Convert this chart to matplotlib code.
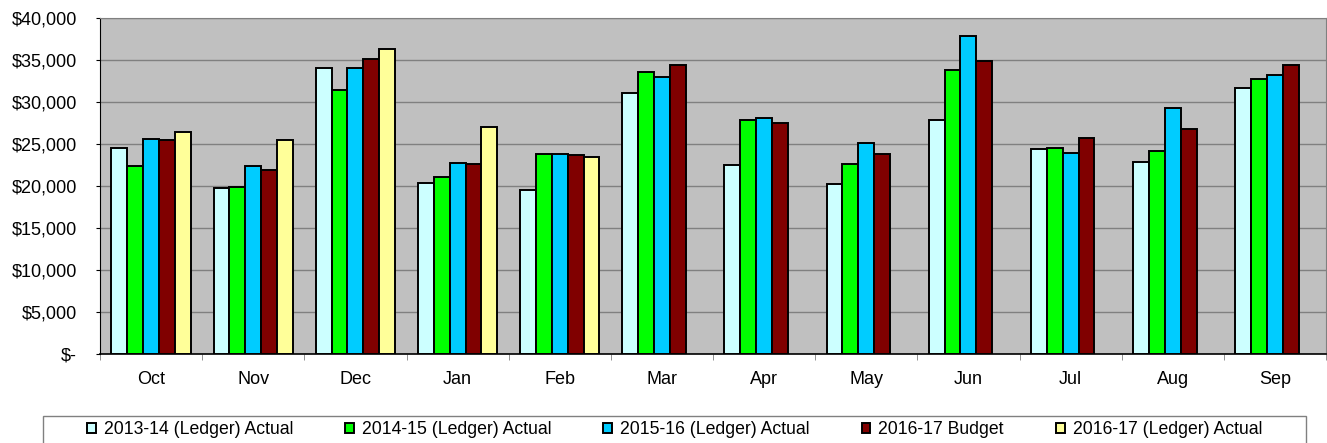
import matplotlib.pyplot as plt
import numpy as np
from matplotlib.ticker import FuncFormatter, FixedLocator
from matplotlib.patches import Rectangle

plt.rcParams['font.family'] = ['Liberation Sans', 'DejaVu Sans']

# -------------------------
# data
# -------------------------
months = ["Oct", "Nov", "Dec", "Jan", "Feb", "Mar", "Apr", "May", "Jun", "Jul", "Aug", "Sep"]

actual_1314 = [24500, 19800, 34000, 20400, 19500, 31100, 22500, 20250, 27800, 24400, 22850, 31700]
actual_1415 = [22400, 19900, 31450, 21100, 23850, 33550, 27800, 22650, 33750, 24500, 24200, 32700]
actual_1516 = [25550, 22400, 34000, 22750, 23850, 32950, 28050, 25150, 37900, 23950, 29300, 33200]
budget_1617 = [25500, 21850, 35100, 22600, 23650, 34400, 27550, 23850, 34900, 25700, 26800, 34400]
actual_1617 = [26450, 25500, 36350, 27050, 23500, None, None, None, None, None, None, None]

series = [
    ("2013-14 (Ledger) Actual", actual_1314, "#CCFFFF"),
    ("2014-15 (Ledger) Actual", actual_1415, "#00FF00"),
    ("2015-16 (Ledger) Actual", actual_1516, "#00CCFF"),
    ("2016-17 Budget", budget_1617, "#800000"),
    ("2016-17 (Ledger) Actual", actual_1617, "#FFFF99"),
]

# -------------------------
# figure
# -------------------------
W, H = 1327, 443
fig = plt.figure(figsize=(W / 100, H / 100), dpi=100)
ax = fig.add_axes([100/W, 1 - 354/H, 1226/W, 336/H])
ax.set_facecolor("#C0C0C0")

x = np.arange(len(months))
w = 0.155
for i, (name, vals, col) in enumerate(series):
    v = np.array([np.nan if a is None else a for a in vals], dtype=float)
    ax.bar(x + (i - 2) * w, v, w, color=col, edgecolor="black", linewidth=1.4,
           label=name, zorder=3)

ax.set_xlim(-0.5, len(months) - 0.5)
ax.set_ylim(0, 40000)
ax.set_yticks(np.arange(0, 40001, 5000))
ax.yaxis.set_major_formatter(FuncFormatter(lambda v, p: "$-" if v == 0 else f"${v:,.0f}"))
ax.grid(axis="y", color="#808080", linewidth=1.0, zorder=1)

ax.set_xticks(x)
ax.set_xticklabels(months)
ax.xaxis.set_minor_locator(FixedLocator(np.arange(-0.5, len(months), 1.0)))
ax.tick_params(axis="x", which="major", length=0, pad=12.5, labelsize=13)
ax.tick_params(axis="x", which="minor", length=4, color="#808080")
ax.tick_params(axis="y", length=3, labelsize=13, pad=13.5)

ax.spines["left"].set_color("black")
ax.spines["bottom"].set_color("black")
ax.spines["bottom"].set_linewidth(1.2)
ax.spines["top"].set_color("#808080")
ax.spines["right"].set_color("#808080")

# legend box (drawn separately, runs off the bottom edge)
fig.patches.append(Rectangle((43/W, -0.05), 1263/W, 0.05 + 1 - 416/H,
                             transform=fig.transFigure, facecolor="white",
                             edgecolor="#808080", linewidth=1.0))
fig.legend(loc="center", bbox_to_anchor=(674.5/W, 1 - 430/H), ncol=5,
           fontsize=12.7, frameon=False, handlelength=0.5, handleheight=0.5,
           handletextpad=0.45, columnspacing=2.95, borderpad=0, borderaxespad=0)

fig.savefig("out.png", dpi=100)
